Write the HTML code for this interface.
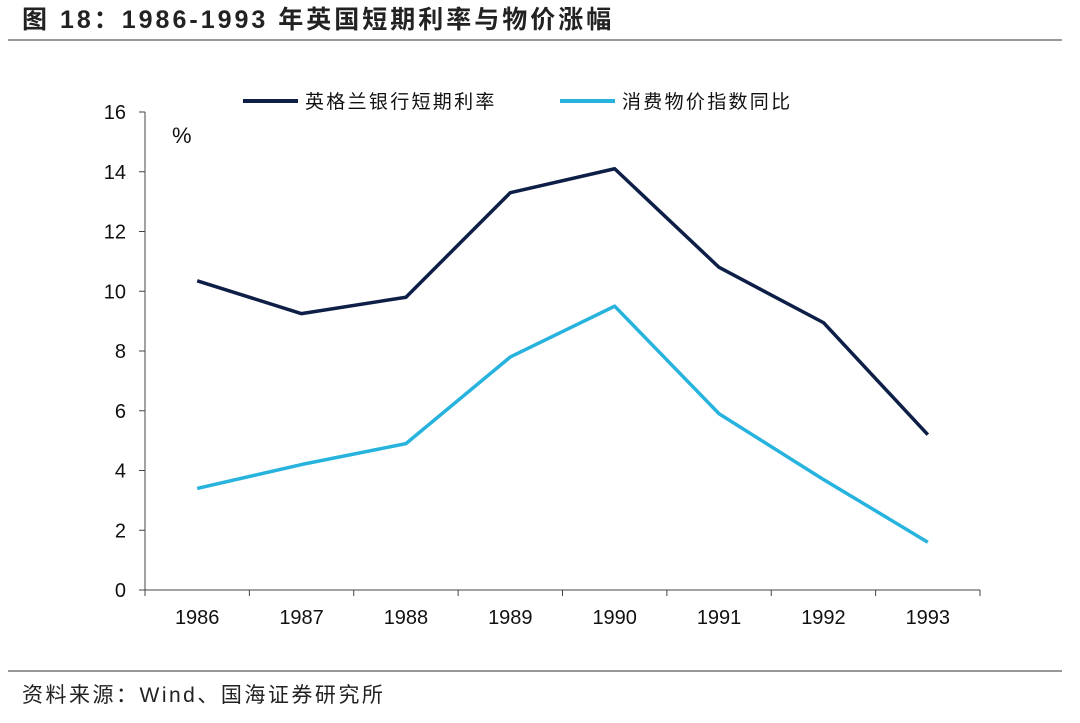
<!DOCTYPE html>
<html><head><meta charset="utf-8"><style>
body{margin:0;background:#fff;}
svg text{font-family:"Liberation Sans","Noto Sans CJK SC",sans-serif;}
</style></head><body>
<svg width="1080" height="718" viewBox="0 0 1080 718">
<text x="22" y="28" font-size="25" font-weight="bold" letter-spacing="3" fill="#222">图 18：1986-1993 年英国短期利率与物价涨幅</text>
<line x1="8" y1="40" x2="1062" y2="40" stroke="#777" stroke-width="1.5"/>
<g id="axes"></g>
<g id="series"></g>
<text x="172" y="143" font-size="22" fill="#111">%</text>
<line x1="243" y1="101" x2="298" y2="101" stroke="#0e1f47" stroke-width="4"/>
<text x="305" y="108" font-size="19" letter-spacing="2.3" fill="#111">英格兰银行短期利率</text>
<line x1="560" y1="101" x2="615" y2="101" stroke="#27b3de" stroke-width="4"/>
<text x="622" y="108" font-size="19" letter-spacing="2.3" fill="#111">消费物价指数同比</text>
<line x1="8" y1="671" x2="1062" y2="671" stroke="#777" stroke-width="1.5"/>
<text x="22" y="702" font-size="21" letter-spacing="2.5" fill="#222">资料来源：Wind、国海证券研究所</text>
</svg>
<script>
const years=["1986","1987","1988","1989","1990","1991","1992","1993"];
const rateValues=[10.35,9.25,9.8,13.3,14.1,10.8,8.95,5.2];
const cpiValues=[3.4,4.2,4.9,7.8,9.5,5.9,3.7,1.6];
const yTicks=[0,2,4,6,8,10,12,14,16];
const NS="http://www.w3.org/2000/svg";
const L=145,R=980,T=112,B=590,yMax=16;
const step=(R-L)/years.length;
const xs=i=>L+step*(i+0.5);
const ys=v=>B-(v/yMax)*(B-T);
function mk(tag,attrs,parent){const e=document.createElementNS(NS,tag);for(const k in attrs)e.setAttribute(k,attrs[k]);parent.appendChild(e);return e;}
const ax=document.getElementById('axes');
let e=mk('line',{x1:L,y1:T,x2:L,y2:B,stroke:'#444','stroke-width':1},ax);


e=mk('line',{x1:L,y1:B,x2:R,y2:B,stroke:'#444','stroke-width':1},ax);


yTicks.forEach(v=>{
 const t=mk('line',{x1:L-6,y1:ys(v),x2:L,y2:ys(v),stroke:'#444'},ax);
 
 
 const tx=mk('text',{x:L-19,y:ys(v)+7,'font-size':20,'text-anchor':'end',fill:'#111'},ax);
 tx.textContent=v;
 
 
});
for(let i=0;i<=years.length;i++){
 const t=mk('line',{x1:L+step*i,y1:B,x2:L+step*i,y2:B+6,stroke:'#444'},ax);
 
 
}
years.forEach((y,i)=>{
 const tx=mk('text',{x:xs(i),y:B+34,'font-size':20,'text-anchor':'middle',fill:'#111'},ax);
 tx.textContent=y;
 
 
});
const sg=document.getElementById('series');
function line(vals,color,name){
 const p=mk('polyline',{points:vals.map((v,i)=>xs(i)+','+ys(v)).join(' '),fill:'none',stroke:color,'stroke-width':3.5,'stroke-linejoin':'round'},sg);
 
 
}
line(rateValues,'#0e1f47','rate-line');
line(cpiValues,'#27b3de','cpi-line');
</script>
</body></html>
